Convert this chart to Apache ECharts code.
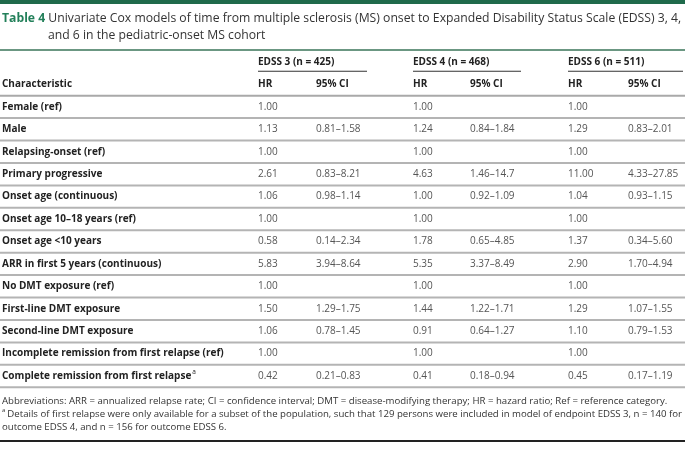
<!DOCTYPE html>
<html><head><meta charset="utf-8">
<script src="https://cdn.jsdelivr.net/npm/echarts@6/dist/echarts.min.js"></script>
<style>html,body{margin:0;padding:0;background:#fff}#c{width:685px;height:458px}</style>
</head><body><div id="c"></div>
<script>
// ---------- data ----------
const tableLabel = 'Table 4';
const titleLines = [
  'Univariate Cox models of time from multiple sclerosis (MS) onset to Expanded Disability Status Scale (EDSS) 3, 4,',
  'and 6 in the pediatric-onset MS cohort'
];
const groups = ['EDSS 3 (n = 425)', 'EDSS 4 (n = 468)', 'EDSS 6 (n = 511)'];
const colHeads = ['Characteristic', 'HR', '95% CI', 'HR', '95% CI', 'HR', '95% CI'];
const characteristics = [
  'Female (ref)', 'Male', 'Relapsing-onset (ref)', 'Primary progressive',
  'Onset age (continuous)', 'Onset age 10–18 years (ref)', 'Onset age <10 years',
  'ARR in first 5 years (continuous)', 'No DMT exposure (ref)', 'First-line DMT exposure',
  'Second-line DMT exposure', 'Incomplete remission from first relapse (ref)',
  'Complete remission from first relapse'
];
const footMarks = ['', '', '', '', '', '', '', '', '', '', '', '', 'a'];
const hr3 = [1.00, 1.13, 1.00, 2.61, 1.06, 1.00, 0.58, 5.83, 1.00, 1.50, 1.06, 1.00, 0.42];
const ci3 = ['', '0.81–1.58', '', '0.83–8.21', '0.98–1.14', '', '0.14–2.34', '3.94–8.64', '', '1.29–1.75', '0.78–1.45', '', '0.21–0.83'];
const hr4 = [1.00, 1.24, 1.00, 4.63, 1.00, 1.00, 1.78, 5.35, 1.00, 1.44, 0.91, 1.00, 0.41];
const ci4 = ['', '0.84–1.84', '', '1.46–14.7', '0.92–1.09', '', '0.65–4.85', '3.37–8.49', '', '1.22–1.71', '0.64–1.27', '', '0.18–0.94'];
const hr6 = [1.00, 1.29, 1.00, 11.00, 1.04, 1.00, 1.37, 2.90, 1.00, 1.29, 1.10, 1.00, 0.45];
const ci6 = ['', '0.83–2.01', '', '4.33–27.85', '0.93–1.15', '', '0.34–5.60', '1.70–4.94', '', '1.07–1.55', '0.79–1.53', '', '0.17–1.19'];
const footnotes = [
  ['', 'Abbreviations: ARR = annualized relapse rate; CI = confidence interval; DMT = disease-modifying therapy; HR = hazard ratio; Ref = reference category.'],
  ['a', 'Details of first relapse were only available for a subset of the population, such that 129 persons were included in model of endpoint EDSS 3, n = 140 for'],
  ['', 'outcome EDSS 4, and n = 156 for outcome EDSS 6.']
];

// ---------- layout / style ----------
const W = 685, H = 458;
const FONT = '"Open Sans", sans-serif';
const SX = 1.0;
const colX = [2, 258, 316, 413, 470, 568, 628];
const groupEnd = [367, 521, 683];
const gridTop = 50.8, rowH = 22.43;
const hrs = [hr3, hr4, hr6], cis = [ci3, ci4, ci6];
const nRows = 2 + characteristics.length;

const styles = {
  group: { fontSize: 10, fontWeight: 'bold', fill: '#222' },
  head: { fontSize: 10, fontWeight: 'bold', fill: '#222' },
  label: { fontSize: 10, fontWeight: 'bold', fill: '#222' },
  num: { fontSize: 10, fontWeight: 'normal', fill: '#555' }
};

// build cells
const cells = [];
groups.forEach((g, i) => cells.push({ x: colX[1 + 2 * i], row: 0, text: g, st: 'group' }));
colHeads.forEach((h, i) => cells.push({ x: colX[i], row: 1, text: h, st: 'head' }));
characteristics.forEach((c, r) => {
  cells.push({ x: colX[0], row: r + 2, text: c, st: 'label', sup: footMarks[r] });
  for (let g = 0; g < 3; g++) {
    cells.push({ x: colX[1 + 2 * g], row: r + 2, text: hrs[g][r].toFixed(2), st: 'num' });
    if (cis[g][r]) cells.push({ x: colX[2 + 2 * g], row: r + 2, text: cis[g][r], st: 'num' });
  }
});

// build rules
const rules = [];
groups.forEach((g, i) => rules.push({ x1: colX[1 + 2 * i], x2: groupEnd[i], b: 1, kind: 'group' }));
for (let b = 2; b <= nRows; b++) rules.push({ x1: 0, x2: W, b: b, kind: b === 2 ? 'head' : 'row' });

const ruleStyle = {
  group: { stroke: '#333', lineWidth: 1.2, off: -2 },
  head: { stroke: '#a9a9a9', lineWidth: 2, off: 0 },
  row: { stroke: '#b4b4b4', lineWidth: 2, off: 0 }
};

const chart = echarts.init(document.getElementById('c'), null, { renderer: 'canvas' });
chart.setOption({
  animation: false,
  backgroundColor: '#fff',
  grid: { left: 0, right: 0, top: gridTop, height: rowH * nRows, containLabel: false },
  xAxis: { type: 'value', min: 0, max: W, show: false },
  yAxis: { type: 'value', min: 0, max: nRows, inverse: true, show: false },
  series: [
    {
      type: 'custom',
      clip: false,
      data: rules.map((r, i) => [i]),
      renderItem: function (params, api) {
        const r = rules[params.dataIndex];
        const rs = ruleStyle[r.kind];
        const p1 = api.coord([r.x1, r.b]);
        const p2 = api.coord([r.x2, r.b]);
        return {
          type: 'line',
          shape: { x1: p1[0], y1: p1[1] + rs.off, x2: p2[0], y2: p2[1] + rs.off },
          style: { stroke: rs.stroke, lineWidth: rs.lineWidth }
        };
      }
    },
    {
      type: 'custom',
      clip: false,
      data: cells.map((c, i) => [i]),
      renderItem: function (params, api) {
        const c = cells[params.dataIndex];
        const s = styles[c.st];
        const p = api.coord([c.x, c.row + 0.5]);
        const style = {
          text: c.text, fontFamily: FONT, fontSize: s.fontSize, fontWeight: s.fontWeight,
          fill: s.fill, align: 'left', verticalAlign: 'middle'
        };
        if (c.sup) {
          style.text = '{m|' + c.text + '}{s|' + c.sup + '}';
          style.rich = {
            m: { fontFamily: FONT, fontSize: s.fontSize, fontWeight: s.fontWeight, fill: s.fill, lineHeight: 14 },
            s: { fontFamily: FONT, fontSize: 6.5, fontWeight: 'normal', fill: s.fill, verticalAlign: 'top', lineHeight: 14, padding: [0, 0, 5, 1] }
          };
        }
        return { type: 'text', x: p[0], y: p[1], scaleX: SX, style: style };
      }
    }
  ],
  graphic: [
    { type: 'rect', shape: { x: 0, y: 0, width: W, height: 4 }, style: { fill: '#1f6a4b' } },
    { type: 'rect', shape: { x: 0, y: 49, width: W, height: 2 }, style: { fill: '#6b9782' } },
    { type: 'rect', shape: { x: 0, y: 440, width: W, height: 2 }, style: { fill: '#222' } },
    {
      type: 'text', x: 2, y: 19, scaleX: SX,
      style: {
        text: '{t|' + tableLabel + '}{b| ' + titleLines[0] + '}',
        verticalAlign: 'middle',
        rich: {
          t: { fontFamily: FONT, fontSize: 12.2, fontWeight: 'bold', fill: '#23805a' },
          b: { fontFamily: FONT, fontSize: 12.2, fill: '#333' }
        }
      }
    },
    {
      type: 'text', x: 48, y: 36, scaleX: SX,
      style: { text: titleLines[1], fontFamily: FONT, fontSize: 12.2, fill: '#333', verticalAlign: 'middle' }
    },
    ...footnotes.map((f, i) => ({
      type: 'text', x: 2, y: 401 + i * 13, scaleX: SX,
      style: {
        text: (f[0] ? '{s|' + f[0] + '}' : '') + '{m|' + f[1] + '}',
        verticalAlign: 'middle',
        rich: {
          m: { fontFamily: FONT, fontSize: 9.65, fill: '#333', lineHeight: 13 },
          s: { fontFamily: FONT, fontSize: 6, fill: '#333', verticalAlign: 'top', lineHeight: 13, padding: [0, 2, 4, 0] }
        }
      }
    }))
  ]
});
</script>
</body></html>
